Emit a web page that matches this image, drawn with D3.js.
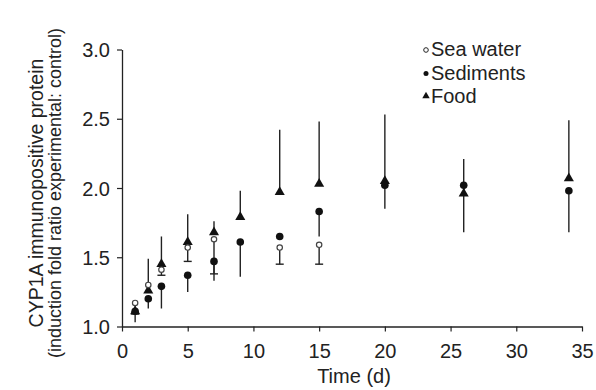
<!doctype html>
<html>
<head>
<script src="https://d3js.org/d3.v7.min.js"></script>
<style>
  body { margin: 0; background: #fff; }
  text { font-family: "Liberation Sans", Arial, sans-serif; fill: #222; }
</style>
</head>
<body>
<svg width="596" height="390"></svg>
<script>
// sampling days (d)
var days = [1, 2, 3, 5, 7, 9, 12, 15, 20, 26, 34];

// mean fold ratio per series (null = not measured)
var seaWater  = [1.17, 1.30, 1.41, 1.57, 1.63, null, 1.57, 1.59, null, null, null];
var sediments = [1.11, 1.20, 1.29, 1.37, 1.47, 1.61, 1.65, 1.83, 2.02, 2.02, 1.98];
var food      = [1.11, 1.26, 1.45, 1.61, 1.68, 1.79, 1.97, 2.03, 2.05, 1.96, 2.07];

// error bar ends (one sided as printed)
var seaWaterLo  = [1.09, null, 1.37, 1.47, 1.38, null, 1.45, 1.45, null, null, null];
var sedimentsLo = [1.03, 1.13, 1.13, 1.25, 1.33, 1.36, null, 1.65, 1.85, 1.68, 1.68];
var foodHi      = [null, 1.49, 1.65, 1.81, 1.76, 1.98, 2.42, 2.48, 2.53, 2.21, 2.49];

var yTicks = [1.0, 1.5, 2.0, 2.5, 3.0];
var xTicks = [0, 5, 10, 15, 20, 25, 30, 35];
var names = ["Sea water", "Sediments", "Food"];

var svg = d3.select("svg");
var x = d3.scaleLinear().domain([0, 35]).range([122, 582]);
var y = d3.scaleLinear().domain([1, 3]).range([326.5, 49.5]);

// axes
var gx = svg.append("g").attr("transform", "translate(0,326.5)")
  .call(d3.axisBottom(x).tickValues(xTicks).tickFormat(d3.format("d")).tickSize(5).tickSizeOuter(0));
var gy = svg.append("g").attr("transform", "translate(122,0)")
  .call(d3.axisLeft(y).tickValues(yTicks).tickFormat(d3.format(".1f")).tickSize(5).tickSizeOuter(0));
[gx, gy].forEach(function(g) {
  g.select(".domain").attr("stroke", "#222").attr("stroke-width", 1.3);
  g.selectAll(".tick line").attr("stroke", "#222").attr("stroke-width", 1.2);
  g.selectAll(".tick text").attr("font-size", 20).style("fill", "#222")
    .attr("font-family", "Liberation Sans, Arial, sans-serif");
});
gx.selectAll(".tick text").attr("y", 31.5).attr("dy", 0);
gy.selectAll(".tick text").attr("x", -12).attr("dy", "0.36em");

// axis titles
svg.append("text").attr("x", 354).attr("y", 383).attr("text-anchor", "middle")
  .attr("font-size", 20).text("Time (d)");
svg.append("text").attr("transform", "translate(43,193) rotate(-90)").attr("text-anchor", "middle")
  .attr("font-size", 19.5).text("CYP1A immunopositive protein");
svg.append("text").attr("transform", "translate(61,193) rotate(-90)").attr("text-anchor", "middle")
  .attr("font-size", 18).text("(induction fold ratio experimental: control)");

// error bars
function bars(vals, ends, cap) {
  days.forEach(function(d, i) {
    if (vals[i] == null || ends[i] == null) return;
    svg.append("line").attr("x1", x(d)).attr("x2", x(d))
      .attr("y1", y(vals[i])).attr("y2", y(ends[i]))
      .attr("stroke", "#222").attr("stroke-width", 1.4);
    if (cap) svg.append("line").attr("x1", x(d) - 4).attr("x2", x(d) + 4)
      .attr("y1", y(ends[i])).attr("y2", y(ends[i]))
      .attr("stroke", "#222").attr("stroke-width", 1.4);
  });
}
bars(food, foodHi, false);
bars(sediments, sedimentsLo, false);
bars(seaWater, seaWaterLo, true);

var tri = d3.symbol().type(d3.symbolTriangle).size(44);

// markers
days.forEach(function(d, i) {
  if (food[i] != null) svg.append("path").attr("d", tri)
    .attr("transform", "translate(" + x(d) + "," + y(food[i]) + ")").attr("fill", "#111");
  if (sediments[i] != null) svg.append("circle").attr("cx", x(d)).attr("cy", y(sediments[i]))
    .attr("r", 3.8).attr("fill", "#111");
  if (seaWater[i] != null) svg.append("circle").attr("cx", x(d)).attr("cy", y(seaWater[i]))
    .attr("r", 2.7).attr("fill", "#fff").attr("stroke", "#444").attr("stroke-width", 1.2);
});

// legend
var leg = svg.append("g").attr("transform", "translate(426,0)");
names.forEach(function(n, i) {
  var ly = 56 + i * 23.5;
  if (i == 0) leg.append("circle").attr("cx", 0).attr("cy", ly - 6).attr("r", 2.3)
    .attr("fill", "#fff").attr("stroke", "#222").attr("stroke-width", 1);
  if (i == 1) leg.append("circle").attr("cx", 0).attr("cy", ly - 6).attr("r", 2.5).attr("fill", "#111");
  if (i == 2) leg.append("path").attr("d", d3.symbol().type(d3.symbolTriangle).size(24))
    .attr("transform", "translate(0," + (ly - 7) + ")").attr("fill", "#111");
  leg.append("text").attr("x", 5).attr("y", ly).attr("font-size", 20).text(n);
});
</script>
</body>
</html>
